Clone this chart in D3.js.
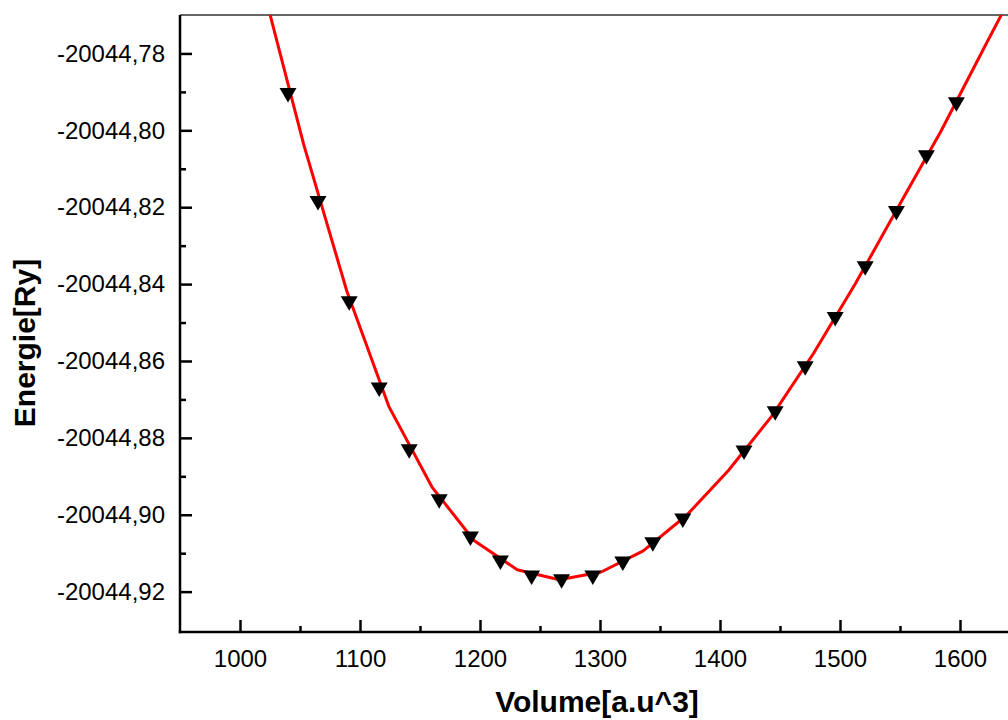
<!DOCTYPE html>
<html>
<head>
<meta charset="utf-8">
<script src="https://cdn.jsdelivr.net/npm/d3@7"></script>
<style>
  html, body { margin: 0; padding: 0; background: #fff; }
  svg { display: block; font-family: "Liberation Sans", Arial, sans-serif; }
</style>
</head>
<body>
<svg id="chart" width="1008" height="720"></svg>
<script>
// measured points (volume, energy)
const volumes = [1040, 1065, 1091, 1116, 1141, 1166, 1192, 1217, 1243, 1268, 1294,
                 1319, 1344, 1369, 1420, 1446, 1471, 1496, 1521, 1547, 1572, 1597];
const energies = [-20044.7908, -20044.8189, -20044.8450, -20044.8674, -20044.8835, -20044.8965,
                  -20044.9062, -20044.9124, -20044.9163, -20044.9173, -20044.9163, -20044.9127,
                  -20044.9077, -20044.9015, -20044.8838, -20044.8736, -20044.8619, -20044.8491,
                  -20044.8359, -20044.8215, -20044.8070, -20044.7932];

// fitted curve samples
const fitVolumes = [1018, 1053, 1089, 1124, 1160, 1195, 1231, 1266, 1301, 1336, 1372,
                    1407, 1443, 1478, 1513, 1549, 1584, 1620, 1655];
const fitEnergies = [-20044.7614, -20044.8036, -20044.8418, -20044.8718, -20044.8928, -20044.9067,
                     -20044.9143, -20044.9169, -20044.9149, -20044.9094, -20044.9002, -20044.8885,
                     -20044.8744, -20044.8580, -20044.8398, -20044.8197, -20044.8003, -20044.7786,
                     -20044.7577];

const xTicks = [1000, 1100, 1200, 1300, 1400, 1500, 1600];
const xMinor = [1050, 1150, 1250, 1350, 1450, 1550, 1650];
const yTicks = [-20044.78, -20044.80, -20044.82, -20044.84, -20044.86, -20044.88, -20044.90, -20044.92];
const yMinor = [-20044.79, -20044.81, -20044.83, -20044.85, -20044.87, -20044.89, -20044.91, -20044.93];

const svg = d3.select("#chart");
const plotLeft = 180, plotRight = 1020, plotTop = 15, plotBottom = 632;

const x = d3.scaleLinear().domain([950, 1650]).range([plotLeft, plotRight]);
const y = d3.scaleLinear().domain([-20044.9305, -20044.77]).range([plotBottom, plotTop]);

const fmt = d3.formatLocale({ decimal: ",", thousands: "", grouping: [3], currency: ["", ""], minus: "-" }).format(".2f");

// clip for the data
svg.append("defs").append("clipPath").attr("id", "plot-clip")
  .append("rect").attr("x", plotLeft).attr("y", plotTop)
  .attr("width", plotRight - plotLeft).attr("height", plotBottom - plotTop);

// top frame
svg.append("line")
  .attr("x1", plotLeft).attr("x2", plotRight).attr("y1", plotTop).attr("y2", plotTop)
  .attr("stroke", "#333").attr("stroke-width", 1.5);

// y axis
const yMaj = svg.append("g").attr("transform", `translate(${plotLeft},0)`)
  .call(d3.axisLeft(y).tickValues(yTicks).tickSize(-12).tickPadding(15).tickFormat(fmt));
const yMin = svg.append("g").attr("transform", `translate(${plotLeft},0)`)
  .call(d3.axisLeft(y).tickValues(yMinor.filter(v => y(v) >= plotTop && y(v) <= plotBottom - 2)).tickSize(-6).tickFormat(""));

// x axis
const xMaj = svg.append("g").attr("transform", `translate(0,${plotBottom})`)
  .call(d3.axisBottom(x).tickValues(xTicks).tickSize(-12).tickPadding(18).tickFormat(d3.format("d")));
const xMin = svg.append("g").attr("transform", `translate(0,${plotBottom})`)
  .call(d3.axisBottom(x).tickValues(xMinor).tickSize(-6).tickFormat(""));

[yMaj, yMin, xMaj, xMin].forEach(g => {
  g.select(".domain").remove();
  g.selectAll(".tick line").attr("stroke", "#000").attr("stroke-width", 2.5);
  g.selectAll(".tick text").attr("fill", "#000").style("font-size", "24px");
});

// axis lines
svg.append("line").attr("x1", plotLeft).attr("x2", plotLeft).attr("y1", plotTop).attr("y2", plotBottom + 1.25)
  .attr("stroke", "#000").attr("stroke-width", 2.5);
svg.append("line").attr("x1", plotLeft - 1.25).attr("x2", plotRight).attr("y1", plotBottom).attr("y2", plotBottom)
  .attr("stroke", "#000").attr("stroke-width", 2.5);

// fit line
const fitData = fitVolumes.map((v, i) => [v, fitEnergies[i]]);
svg.append("path")
  .datum(fitData)
  .attr("clip-path", "url(#plot-clip)")
  .attr("fill", "none")
  .attr("stroke", "#ff0000")
  .attr("stroke-width", 3)
  .attr("stroke-linejoin", "round")
  .attr("d", d3.line().x(d => x(d[0])).y(d => y(d[1])));

// markers (down triangles)
const points = volumes.map((v, i) => [v, energies[i]]);
svg.append("g")
  .selectAll("path")
  .data(points)
  .join("path")
  .attr("transform", d => `translate(${x(d[0])},${y(d[1])})`)
  .attr("d", "M-8.5,-7L8.5,-7L0,7.5Z")
  .attr("fill", "#000");

// axis titles
svg.append("text")
  .attr("x", 597).attr("y", 712)
  .attr("text-anchor", "middle")
  .style("font-size", "30px").style("font-weight", "bold")
  .text("Volume[a.u^3]");

svg.append("text")
  .attr("transform", `translate(35,343) rotate(-90)`)
  .attr("text-anchor", "middle")
  .style("font-size", "30px").style("font-weight", "bold")
  .text("Energie[Ry]");
</script>
</body>
</html>
